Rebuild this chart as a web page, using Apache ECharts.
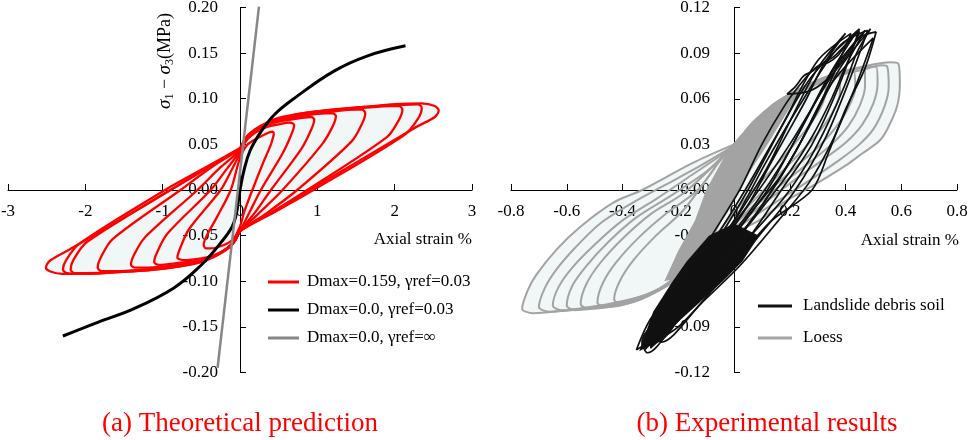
<!DOCTYPE html>
<html>
<head>
<meta charset="utf-8">
<script src="https://cdn.jsdelivr.net/npm/echarts@6/dist/echarts.min.js"></script>
<style>html,body{margin:0;padding:0;background:#fff}#c{width:969px;height:440px}</style>
</head>
<body>
<div id="c"></div>
<script>
// ---------- Panel (a): theoretical prediction ----------
const redName = 'Dmax=0.159, γref=0.03';
const blackName = 'Dmax=0.0, γref=0.03';
const grayName = 'Dmax=0.0, γref=∞';

const redLoop1 = [[0.44,0.062],[0.40,0.05],[0.3,0.03],[0.16,0.0],[0.05,-0.025],[0,-0.04],[-0.1,-0.055],[-0.3,-0.063],[-0.44,-0.064],[-0.47,-0.06],[-0.43,-0.05],[-0.3,-0.03],[-0.12,0.0],[0,0.035],[0.1,0.05],[0.3,0.06],[0.42,0.064],[0.44,0.062]];
const redLoop2 = [[0,0.04],[0.05,0.05],[0.1,0.056],[0.2,0.063],[0.35,0.069],[0.5,0.072],[0.64,0.074],[0.70,0.071],[0.66,0.06],[0.55,0.04],[0.27,0.0],[0.12,-0.025],[0,-0.045],[-0.05,-0.053],[-0.1,-0.059],[-0.2,-0.066],[-0.35,-0.072],[-0.5,-0.075],[-0.72,-0.077],[-0.81,-0.074],[-0.77,-0.063],[-0.66,-0.043],[-0.25,0.0],[-0.12,0.02],[0,0.04]];
const redLoop3 = [[0,0.042],[0.05,0.051],[0.1,0.057],[0.2,0.064],[0.35,0.071],[0.5,0.075],[0.8,0.079],[0.92,0.08],[0.96,0.077],[0.92,0.066],[0.8,0.046],[0.4,0.0],[0.2,-0.024],[0,-0.045],[-0.05,-0.053],[-0.1,-0.059],[-0.2,-0.066],[-0.35,-0.073],[-0.5,-0.077],[-0.8,-0.08],[-1.05,-0.082],[-1.11,-0.079],[-1.07,-0.068],[-0.94,-0.048],[-0.38,0.0],[-0.18,0.022],[0,0.042]];
const redLoop4 = [[0,0.043],[0.05,0.052],[0.1,0.058],[0.2,0.065],[0.35,0.072],[0.5,0.076],[0.8,0.081],[1.1,0.084],[1.2,0.084],[1.24,0.081],[1.2,0.07],[1.06,0.05],[0.55,0.0],[0.25,-0.025],[0,-0.045],[-0.05,-0.053],[-0.1,-0.059],[-0.2,-0.066],[-0.35,-0.073],[-0.5,-0.077],[-0.8,-0.082],[-1.2,-0.085],[-1.36,-0.085],[-1.41,-0.082],[-1.37,-0.071],[-1.23,-0.052],[-0.55,0.0],[-0.25,0.025],[0,0.043]];
const redLoop5 = [[0,0.044],[0.05,0.052],[0.1,0.058],[0.2,0.065],[0.35,0.072],[0.5,0.077],[0.8,0.082],[1.2,0.086],[1.5,0.088],[1.58,0.088],[1.62,0.084],[1.58,0.073],[1.44,0.053],[0.74,0.0],[0.35,-0.025],[0,-0.045],[-0.05,-0.053],[-0.1,-0.059],[-0.2,-0.066],[-0.35,-0.073],[-0.5,-0.078],[-0.8,-0.083],[-1.2,-0.087],[-1.6,-0.089],[-1.79,-0.089],[-1.84,-0.085],[-1.8,-0.074],[-1.65,-0.054],[-0.77,0.0],[-0.35,0.026],[0,0.044]];
const redLoop6 = [[0,0.045],[0.05,0.053],[0.1,0.059],[0.2,0.066],[0.35,0.073],[0.5,0.078],[0.8,0.083],[1.2,0.087],[1.6,0.09],[1.95,0.092],[2.06,0.092],[2.1,0.088],[2.05,0.076],[1.9,0.058],[0.87,0.0],[0.4,-0.025],[0,-0.045],[-0.05,-0.053],[-0.1,-0.059],[-0.2,-0.066],[-0.35,-0.073],[-0.5,-0.078],[-0.8,-0.083],[-1.2,-0.087],[-1.6,-0.09],[-2.0,-0.091],[-2.14,-0.091],[-2.19,-0.087],[-2.15,-0.076],[-1.98,-0.057],[-0.9,0.0],[-0.42,0.025],[0,0.045]];
const redLoop7 = [[0,0.046],[0.05,0.054],[0.1,0.06],[0.2,0.067],[0.35,0.074],[0.5,0.079],[0.8,0.084],[1.2,0.088],[1.6,0.091],[2.0,0.093],[2.3,0.094],[2.35,0.09],[2.3,0.078],[2.12,0.06],[0.95,0.0],[0.45,-0.024],[0,-0.045],[-0.05,-0.054],[-0.1,-0.06],[-0.2,-0.067],[-0.35,-0.074],[-0.5,-0.079],[-0.8,-0.084],[-1.2,-0.088],[-1.6,-0.09],[-2.0,-0.092],[-2.24,-0.091],[-2.29,-0.087],[-2.25,-0.077],[-2.08,-0.059],[-0.97,0.0],[-0.46,0.024],[0,0.046]];
const redLoop8 = [[0,0.045],[0.05,0.053],[0.1,0.059],[0.2,0.066],[0.35,0.073],[0.5,0.078],[0.8,0.084],[1.2,0.088],[1.6,0.091],[2.0,0.094],[2.35,0.095],[2.52,0.092],[2.57,0.087],[2.52,0.08],[2.3,0.07],[2.0,0.055],[1.5,0.03],[1.0,0.005],[0.5,-0.02],[0,-0.045],[-0.05,-0.053],[-0.1,-0.059],[-0.2,-0.066],[-0.35,-0.073],[-0.5,-0.078],[-0.8,-0.084],[-1.2,-0.088],[-1.6,-0.09],[-2.0,-0.092],[-2.3,-0.092],[-2.46,-0.089],[-2.51,-0.085],[-2.45,-0.077],[-2.2,-0.065],[-1.8,-0.045],[-1.5,-0.03],[-1.0,-0.005],[-0.5,0.02],[0,0.045]];
const redLoops = [redLoop1, redLoop2, redLoop3, redLoop4, redLoop5, redLoop6, redLoop7, redLoop8];

const backbone = [[-2.29,-0.160],[-1.84,-0.145],[-1.37,-0.130],[-0.85,-0.107],[-0.51,-0.083],[-0.25,-0.058],[-0.08,-0.036],[0,0],[0.05,0.021],[0.13,0.043],[0.28,0.065],[0.45,0.083],[0.71,0.101],[1.21,0.130],[1.65,0.147],[2.14,0.158]];
const linearLine = [[-0.29,-0.195],[0.245,0.201]];

// ---------- Panel (b): experimental results ----------
const debrisName = 'Landslide debris soil';
const loessName = 'Loess';

const loessLoop1 = [[0,0.03],[0.04,0.038],[0.08,0.046],[0.14,0.056],[0.19,0.062],[0.26,0.068],[0.355,0.076],[0.46,0.081],[0.56,0.084],[0.59,0.083],[0.595,0.07],[0.585,0.055],[0.55,0.04],[0.52,0.032],[0.46,0.024],[0.40,0.016],[0.285,0.003],[0.18,-0.008],[0.09,-0.02],[-0.02,-0.03],[-0.11,-0.04],[-0.2,-0.058],[-0.3,-0.068],[-0.45,-0.075],[-0.6,-0.079],[-0.72,-0.081],[-0.76,-0.078],[-0.74,-0.066],[-0.71,-0.056],[-0.636,-0.039],[-0.55,-0.024],[-0.43,-0.008],[-0.33,0.0],[-0.146,0.018],[0,0.03]];
const loessLoop2 = [[-0.01,0.028],[0.04,0.037],[0.08,0.045],[0.14,0.054],[0.2,0.061],[0.28,0.068],[0.37,0.075],[0.46,0.079],[0.53,0.082],[0.55,0.081],[0.555,0.068],[0.54,0.055],[0.5,0.04],[0.45,0.03],[0.38,0.02],[0.26,0.005],[0.15,-0.008],[0.05,-0.02],[-0.05,-0.033],[-0.14,-0.047],[-0.24,-0.062],[-0.35,-0.071],[-0.5,-0.077],[-0.66,-0.08],[-0.70,-0.077],[-0.68,-0.065],[-0.64,-0.053],[-0.57,-0.038],[-0.48,-0.022],[-0.36,-0.008],[-0.25,0.003],[-0.12,0.016],[-0.01,0.028]];
const loessLoop3 = [[-0.02,0.026],[0.03,0.036],[0.08,0.046],[0.14,0.055],[0.21,0.063],[0.3,0.071],[0.4,0.077],[0.48,0.081],[0.51,0.081],[0.515,0.07],[0.5,0.057],[0.46,0.043],[0.4,0.031],[0.32,0.02],[0.22,0.007],[0.12,-0.007],[0.02,-0.022],[-0.08,-0.037],[-0.18,-0.053],[-0.28,-0.066],[-0.4,-0.074],[-0.55,-0.078],[-0.62,-0.079],[-0.65,-0.076],[-0.63,-0.064],[-0.58,-0.051],[-0.5,-0.036],[-0.4,-0.02],[-0.28,-0.006],[-0.15,0.01],[-0.02,0.026]];
const loessLoop4 = [[-0.03,0.024],[0.03,0.035],[0.08,0.045],[0.15,0.056],[0.22,0.064],[0.3,0.071],[0.39,0.077],[0.45,0.08],[0.47,0.079],[0.47,0.068],[0.45,0.055],[0.41,0.042],[0.35,0.03],[0.27,0.018],[0.18,0.005],[0.08,-0.01],[-0.02,-0.026],[-0.12,-0.043],[-0.22,-0.06],[-0.33,-0.071],[-0.47,-0.077],[-0.57,-0.079],[-0.60,-0.076],[-0.58,-0.063],[-0.53,-0.05],[-0.45,-0.034],[-0.35,-0.018],[-0.22,-0.003],[-0.1,0.012],[-0.03,0.024]];
const loessLoop5 = [[-0.04,0.022],[0.02,0.034],[0.08,0.046],[0.15,0.057],[0.23,0.066],[0.31,0.073],[0.39,0.077],[0.43,0.078],[0.435,0.067],[0.41,0.054],[0.36,0.04],[0.3,0.028],[0.22,0.015],[0.13,0.0],[0.03,-0.017],[-0.07,-0.035],[-0.17,-0.053],[-0.28,-0.067],[-0.42,-0.076],[-0.52,-0.078],[-0.55,-0.075],[-0.53,-0.062],[-0.48,-0.048],[-0.4,-0.032],[-0.3,-0.016],[-0.18,-0.002],[-0.04,0.022]];
const loessLoop6 = [[-0.05,0.02],[0.02,0.034],[0.08,0.046],[0.15,0.057],[0.23,0.066],[0.3,0.072],[0.36,0.076],[0.38,0.075],[0.38,0.064],[0.35,0.05],[0.3,0.037],[0.23,0.023],[0.15,0.008],[0.06,-0.009],[-0.03,-0.027],[-0.13,-0.047],[-0.24,-0.063],[-0.37,-0.074],[-0.46,-0.077],[-0.49,-0.074],[-0.47,-0.061],[-0.42,-0.047],[-0.34,-0.031],[-0.24,-0.015],[-0.13,0.0],[-0.05,0.02]];
const loessLoop7 = [[-0.06,0.017],[0.01,0.032],[0.07,0.045],[0.14,0.056],[0.21,0.064],[0.28,0.07],[0.32,0.073],[0.33,0.07],[0.32,0.058],[0.28,0.045],[0.22,0.031],[0.15,0.016],[0.07,0.0],[-0.02,-0.019],[-0.1,-0.038],[-0.2,-0.057],[-0.31,-0.07],[-0.4,-0.075],[-0.43,-0.072],[-0.41,-0.06],[-0.36,-0.046],[-0.28,-0.03],[-0.18,-0.013],[-0.06,0.017]];
const loessLoops = [loessLoop1, loessLoop2, loessLoop3, loessLoop4, loessLoop5, loessLoop6, loessLoop7];
// dense central band of loess cycles (outline of the solid grey zone)
const loessDense = [[-0.25,-0.06],[-0.2,-0.04],[-0.14,-0.02],[-0.1,0.0],[-0.04,0.02],[0,0.031],[0.08,0.046],[0.14,0.057],[0.2,0.063],[0.25,0.066],[0.22,0.06],[0.18,0.048],[0.12,0.03],[0.05,0.01],[0.02,0.0],[-0.03,-0.015],[-0.07,-0.03],[-0.13,-0.045],[-0.2,-0.058],[-0.25,-0.06]];

const debrisLoop1 = [[0.51,0.104],[0.47,0.08],[0.40,0.053],[0.34,0.025],[0.28,0.0],[0.13,-0.021],[-0.05,-0.059],[-0.2,-0.085],[-0.31,-0.107],[-0.33,-0.10],[-0.25,-0.08],[-0.1,-0.045],[0.05,-0.01],[0.2,0.03],[0.35,0.075],[0.45,0.1],[0.51,0.104]];
const debrisLoop2 = [[0.48,0.105],[0.42,0.075],[0.33,0.035],[0.22,0.0],[0.09,-0.03],[-0.06,-0.062],[-0.2,-0.09],[-0.33,-0.104],[-0.32,-0.095],[-0.22,-0.075],[-0.12,-0.05],[0.0,-0.02],[0.12,0.02],[0.25,0.06],[0.38,0.095],[0.48,0.105]];
const debrisLoop3 = [[0.45,0.106],[0.38,0.07],[0.28,0.03],[0.17,0.0],[0.04,-0.035],[-0.1,-0.065],[-0.24,-0.092],[-0.35,-0.105],[-0.3,-0.085],[-0.2,-0.062],[-0.08,-0.035],[0.04,0.0],[0.15,0.035],[0.28,0.075],[0.45,0.106]];
const debrisLoop4 = [[0.42,0.103],[0.33,0.065],[0.22,0.025],[0.12,-0.005],[0.0,-0.035],[-0.14,-0.07],[-0.28,-0.098],[-0.29,-0.09],[-0.17,-0.06],[-0.05,-0.03],[0.05,0.0],[0.18,0.045],[0.3,0.085],[0.42,0.103]];
const debrisLoop5 = [[0.5,0.1],[0.44,0.07],[0.36,0.035],[0.27,0.005],[0.16,-0.02],[0.02,-0.05],[-0.12,-0.075],[-0.26,-0.1],[-0.27,-0.094],[-0.15,-0.07],[-0.02,-0.04],[0.1,-0.01],[0.22,0.025],[0.35,0.07],[0.5,0.1]];
const debrisLoop6 = [[0.44,0.104],[0.36,0.088],[0.29,0.08],[0.24,0.07],[0.18,0.055],[0.1,0.03],[0.02,0.0],[-0.08,-0.03],[-0.18,-0.06],[-0.3,-0.1],[-0.28,-0.1],[-0.12,-0.06],[0.0,-0.03],[0.12,0.0],[0.24,0.04],[0.34,0.075],[0.44,0.104]];
const debrisLoop7 = [[0.47,0.105],[0.41,0.085],[0.35,0.06],[0.28,0.035],[0.2,0.012],[0.1,-0.012],[-0.02,-0.04],[-0.15,-0.07],[-0.3,-0.103],[-0.26,-0.088],[-0.14,-0.062],[-0.03,-0.035],[0.08,-0.008],[0.18,0.02],[0.27,0.05],[0.36,0.08],[0.47,0.105]];
const debrisLoop8 = [[0.40,0.103],[0.32,0.082],[0.26,0.06],[0.2,0.04],[0.13,0.017],[0.05,-0.01],[-0.06,-0.04],[-0.2,-0.08],[-0.32,-0.105],[-0.24,-0.085],[-0.1,-0.048],[0.02,-0.015],[0.12,0.015],[0.2,0.045],[0.3,0.08],[0.40,0.103]];
const debrisLoop9 = [[0.49,0.106],[0.44,0.09],[0.4,0.07],[0.34,0.045],[0.27,0.02],[0.18,-0.005],[0.06,-0.03],[-0.08,-0.06],[-0.22,-0.09],[-0.3,-0.104],[-0.2,-0.078],[-0.06,-0.045],[0.06,-0.015],[0.17,0.01],[0.28,0.045],[0.38,0.08],[0.49,0.106]];
const debrisLoop10 = [[0.19,0.063],[0.22,0.068],[0.25,0.075],[0.28,0.078],[0.31,0.082],[0.34,0.084],[0.37,0.088],[0.4,0.095],[0.43,0.102],[0.45,0.104],[0.43,0.095],[0.38,0.082],[0.33,0.072],[0.27,0.065],[0.19,0.063]];
const debrisLoops = [debrisLoop1, debrisLoop2, debrisLoop3, debrisLoop4, debrisLoop5, debrisLoop6, debrisLoop7, debrisLoop8, debrisLoop9, debrisLoop10];
// dense lower zone of debris-soil cycles (outline of the solid black zone)
const debrisDense = [[-0.34,-0.106],[-0.29,-0.08],[-0.22,-0.06],[-0.17,-0.047],[-0.09,-0.03],[0.0,-0.022],[0.09,-0.03],[0.03,-0.047],[-0.04,-0.06],[-0.16,-0.08],[-0.28,-0.1],[-0.34,-0.106]];

// ---------- chart ----------
const FONT = 'Liberation Serif';
const chart = echarts.init(document.getElementById('c'), null, {renderer: 'canvas'});

const G0 = {left: 8, top: 7.5, width: 464, height: 365};
const G1 = {left: 511, top: 7.5, width: 446, height: 365};

function xAxisCfg(grid, h, min, max, interval, fmt) {
  return {
    type: 'value', gridIndex: grid, min: min, max: max, interval: interval, position: 'bottom', offset: -h / 2,
    axisLine: {onZero: false, lineStyle: {color: '#000', width: 1}},
    axisTick: {inside: true, length: 6, lineStyle: {color: '#000'}},
    axisLabel: {margin: 13, fontFamily: FONT, fontSize: 17, color: '#000', formatter: fmt},
    splitLine: {show: false}
  };
}
function yAxisCfg(grid, w, min, max, interval, margin) {
  return {
    type: 'value', gridIndex: grid, min: min, max: max, interval: interval, position: 'left', offset: -w / 2,
    axisLine: {onZero: false, lineStyle: {color: '#000', width: 1}},
    axisTick: {inside: true, length: 6, lineStyle: {color: '#000'}},
    axisLabel: {margin: margin, fontFamily: FONT, fontSize: 17, color: '#000', formatter: v => v.toFixed(2)},
    splitLine: {show: false}
  };
}

function polygonSeries(points, xi, fill, z) {
  return {
    type: 'custom', xAxisIndex: xi, yAxisIndex: xi, z: z, silent: true,
    data: [0],
    renderItem: function (params, api) {
      return {type: 'polygon', shape: {points: points.map(p => api.coord(p))}, style: {fill: fill, stroke: null}};
    }
  };
}

const series = [];
series.push(polygonSeries(redLoop8, 0, '#f1f6f6', -1));
redLoops.forEach(d => series.push({name: redName, type: 'line', xAxisIndex: 0, yAxisIndex: 0, data: d, symbol: 'none', smooth: 0.3, lineStyle: {color: '#ff0000', width: 2.3}, itemStyle: {color: '#ff0000'}, z: 2}));
series.push({name: blackName, type: 'line', xAxisIndex: 0, yAxisIndex: 0, data: backbone, symbol: 'none', smooth: 0.4, lineStyle: {color: '#000', width: 3}, itemStyle: {color: '#000'}, z: 3});
series.push({name: grayName, type: 'line', xAxisIndex: 0, yAxisIndex: 0, data: linearLine, symbol: 'none', lineStyle: {color: '#878787', width: 2.5}, itemStyle: {color: '#878787'}, z: 4});

series.push(polygonSeries(loessLoop1, 1, '#f1f6f6', -1));
loessLoops.forEach(d => series.push({name: loessName, type: 'line', xAxisIndex: 1, yAxisIndex: 1, data: d, symbol: 'none', smooth: 0.3, lineStyle: {color: '#a3a3a3', width: 2}, itemStyle: {color: '#a3a3a3'}, z: 2}));
series.push(polygonSeries(loessDense, 1, '#a3a3a3', 2));
series.push(polygonSeries(debrisDense, 1, '#111111', 3));
debrisLoops.forEach(d => series.push({name: debrisName, type: 'line', xAxisIndex: 1, yAxisIndex: 1, data: d, symbol: 'none', smooth: 0.3, lineStyle: {color: '#111', width: 1.7}, itemStyle: {color: '#111'}, z: 3}));

const option = {
  animation: false,
  backgroundColor: '#fff',
  grid: [
    Object.assign({outerBoundsMode: 'none', containLabel: false}, G0),
    Object.assign({outerBoundsMode: 'none', containLabel: false}, G1)
  ],
  xAxis: [
    xAxisCfg(0, G0.height, -3, 3, 1, v => String(v)),
    xAxisCfg(1, G1.height, -0.8, 0.8, 0.2, v => (Math.abs(v) < 1e-9 ? '0' : v.toFixed(1)))
  ],
  yAxis: [
    yAxisCfg(0, G0.width, -0.2, 0.2, 0.05, 22),
    yAxisCfg(1, G1.width, -0.12, 0.12, 0.03, 24)
  ],
  legend: [
    {data: [redName, blackName, grayName], orient: 'vertical', left: 268, top: 273.5, padding: 0, icon: 'rect', itemWidth: 31, itemHeight: 3, itemGap: 11,
     textStyle: {fontFamily: FONT, fontSize: 17, color: '#000', padding: [0, 0, 0, 3]}},
    {data: [debrisName, loessName], orient: 'vertical', left: 758, top: 297.5, padding: 0, icon: 'rect', itemWidth: 34, itemHeight: 3, itemGap: 15,
     textStyle: {fontFamily: FONT, fontSize: 17, color: '#000', padding: [0, 0, 0, 6]}}
  ],
  graphic: [
    {type: 'text', x: 472, y: 240, style: {text: 'Axial strain %', font: '17px "Liberation Serif"', fill: '#000', align: 'right', textAlign: 'right', verticalAlign: 'middle', textVerticalAlign: 'middle'}},
    {type: 'text', x: 959, y: 241, style: {text: 'Axial strain %', font: '17px "Liberation Serif"', fill: '#000', align: 'right', textAlign: 'right', verticalAlign: 'middle', textVerticalAlign: 'middle'}},
    {type: 'text', x: 165, y: 61, rotation: Math.PI / 2, style: {
      text: '{i|σ}{s|1}{n| − }{i|σ}{s|3}{n|(MPa)}',
      align: 'center', textAlign: 'center', verticalAlign: 'middle', textVerticalAlign: 'middle', fill: '#000',
      rich: {
        i: {fontFamily: FONT, fontStyle: 'italic', fontSize: 19, color: '#000', lineHeight: 22, verticalAlign: 'middle'},
        s: {fontFamily: FONT, fontSize: 12, color: '#000', lineHeight: 22, verticalAlign: 'bottom'},
        n: {fontFamily: FONT, fontSize: 18, color: '#000', lineHeight: 22, verticalAlign: 'middle'}
      }}},
    {type: 'text', x: 240, y: 424, style: {text: '(a) Theoretical prediction', font: '27px "Liberation Serif"', fill: '#ff0000', align: 'center', textAlign: 'center', verticalAlign: 'middle', textVerticalAlign: 'middle'}},
    {type: 'text', x: 767, y: 424, style: {text: '(b) Experimental results', font: '27px "Liberation Serif"', fill: '#ff0000', align: 'center', textAlign: 'center', verticalAlign: 'middle', textVerticalAlign: 'middle'}}
  ],
  series: series
};
chart.setOption(option);
</script>
</body>
</html>
